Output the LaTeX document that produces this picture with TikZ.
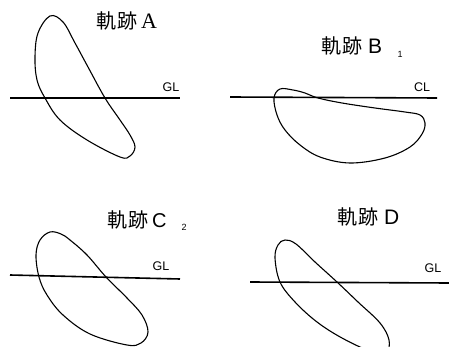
\documentclass[tikz,border=0pt]{standalone}
\usepackage{fontspec}
\setmainfont{Liberation Serif}
\newfontfamily\cjk{Noto Sans CJK JP}
\newfontfamily\lsans{Liberation Sans}
\begin{document}
\begin{tikzpicture}[x=1pt,y=-1pt,
  gline/.style={line width=1.6pt},
  loop/.style={line width=1.1pt, smooth cycle, tension=0.6},
  title/.style={anchor=west, inner sep=0pt, font=\fontsize{20}{20}\selectfont},
  big/.style={},
  sub/.style={anchor=center, inner sep=0pt, font=\lsans\fontsize{9}{9}\selectfont},
  gl/.style={anchor=center, inner sep=0pt, font=\lsans\fontsize{12.5}{13}\selectfont}]
\useasboundingbox (0,0) rectangle (449,347);
\clip (0,0) rectangle (449,347);
% Panel A
\node[title] (tA) at (96,21) {{\cjk 軌\kern1pt 跡}\kern4pt{\fontsize{22}{22}\selectfont A}};
\coordinate (aL) at (10,98); \coordinate (aR) at (180,98);
\draw[gline] (aL) -- (aR);
\node[gl] (glA) at (171,87) {GL};
\draw[loop] plot coordinates {(50,16) (63,22) (75,43) (88,67) (105,98) (120,120) (130,135) (135,147) (130,156) (120,157) (87,140) (60,120) (45,98) (37,80) (35,57) (38,33)};
% Panel B
\node[title] (tB) at (321,46) {{\cjk 軌\kern1pt 跡}\kern6pt{\lsans\fontsize{21}{21}\selectfont B}};
\node[sub] (sB) at (400,54) {1};
\coordinate (bL) at (230,97); \coordinate (bR) at (437,98);
\draw[gline] (bL) -- (bR);
\node[gl] (glB) at (422,87) {CL};
\draw[loop] plot coordinates {(280,89) (293,90) (305,93) (318,98) (342,103) (375,108) (405,112) (420,115) (425,123) (422,134) (410,147) (385,158) (350,163) (320,157) (300,145) (285,130) (277,115) (274,98)};
% Panel C
\node[title] (tC) at (107,220) {{\cjk 軌\kern1pt 跡}\kern4pt{\lsans C}};
\node[sub] (sC) at (184,227) {2};
\coordinate (cL) at (10,275); \coordinate (cR) at (180,279);
\draw[gline] (cL) -- (cR);
\node[gl] (glC) at (161,266) {GL};
\draw[loop] plot coordinates {(50,232) (61,234) (70,240) (87,255) (106,277) (127,298) (142,315) (148,332) (141,343) (127,345) (90,334) (63,315) (47,295) (39,277) (36,255) (40,240)};
% Panel D
\node[title] (tD) at (337,217) {{\cjk 軌\kern1pt 跡}\kern6pt{\lsans\fontsize{21}{21}\selectfont D}};
\coordinate (dL) at (250,282); \coordinate (dR) at (449,283);
\draw[gline] (dL) -- (dR);
\node[gl] (glD) at (433,268) {GL};
\draw[loop] plot coordinates {(285,240) (296,244) (315,262) (337,282) (358,302) (380,323) (389,340) (386,352) (370,351) (342,338) (317,322) (295,302) (280,282) (275,258) (278,245)};
\end{tikzpicture}
\end{document}
